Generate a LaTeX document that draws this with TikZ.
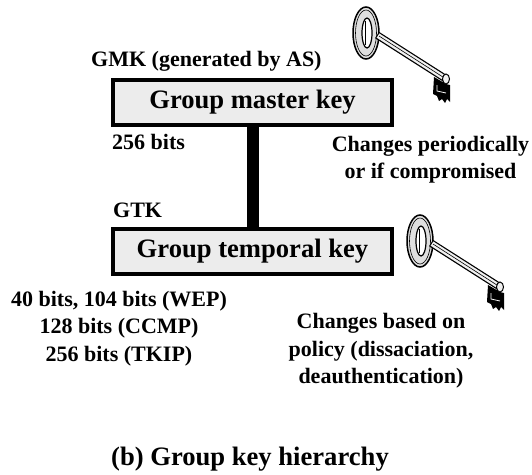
\documentclass[tikz,border=0pt]{standalone}
\usepackage{fontspec}
\setmainfont{Liberation Serif}
\usetikzlibrary{positioning}

\newcommand{\boxfont}{\fontsize{26.6}{32}\selectfont\bfseries}
\newcommand{\notefont}{\fontsize{22}{27.5}\selectfont\bfseries}

\tikzset{
    keybox/.style={draw, line width=4pt, fill=gray!15, minimum width=279pt,
        minimum height=45pt, inner sep=0pt, font=\boxfont},
    note/.style={inner sep=0pt, align=center, font=\notefont},
    % an old-fashioned key: ring, shaft and bit
    keyicon/.pic={
        % ring with its hole
        \draw[line width=1.5pt, fill=gray!25] (0,0) ellipse (13 and 26);
        \draw[line width=0.6pt] (0,0) ellipse (10.5 and 23);
        \draw[line width=1.2pt, fill=white] (1,0) ellipse (5 and 15);
        \draw[line width=0.8pt] (-1,-12) -- (-1,12);
        % shaft
        \draw[line width=7.5pt] (11,2) -- (80,46);
        \draw[line width=5pt, gray!12] (12,2.6) -- (80,46);
        \draw[line width=0.6pt] (13,3) -- (80,46);
        % bit with its teeth
        \fill (68,44) -- (80,51) -- (84,52) -- (84,69) -- (81,66) -- (79,70)
            -- (76,66) -- (73,68) -- (71,63) -- (67,61) -- cycle;
        \draw[white, line width=0.8pt] (71,52) -- (71,58) -- (80,60);
        % collar at the end of the shaft
        \draw[line width=1pt, fill=gray!12] (80,46) ellipse (3.5 and 5);
    }
}

\begin{document}
\begin{tikzpicture}[x=1pt, y=-1pt]
    \useasboundingbox (0,0) rectangle (532,474);

    % The two keys of the hierarchy
    \node[keybox] (gmk) at (252.5,102) {Group master key};
    \node[keybox] (gtk) at (252.5,251.5) {Group temporal key};

    % Thick bar from the master key down to the temporal key
    \draw[line width=12pt] (gmk) -- (gtk);

    % Labels round the master key
    \node[note, anchor=west] (gmklbl) at (91,61) {GMK (generated by AS)};
    \node[note, anchor=west] (gmkbits) at (112,142) {256 bits};
    \node[note] (gmkchg) at (430.5,159.5) {Changes periodically\\or if compromised};

    % Labels round the temporal key
    \node[note, anchor=west] (gtklbl) at (113,210) {GTK};
    \node[note] (gtkbits) at (119,328.5) {40 bits, 104 bits (WEP)\\128 bits (CCMP)\\256 bits (TKIP)};
    \node[note] (gtkchg) at (381,351) {Changes based on\\policy (dissaciation,\\deauthentication)};

    % Key drawings
    \pic at (366,33) {keyicon};
    \pic at (420,241) {keyicon};

    % Caption
    \node[inner sep=0pt, font=\boxfont] (caption) at (250,459) {(b) Group key hierarchy};
\end{tikzpicture}
\end{document}
